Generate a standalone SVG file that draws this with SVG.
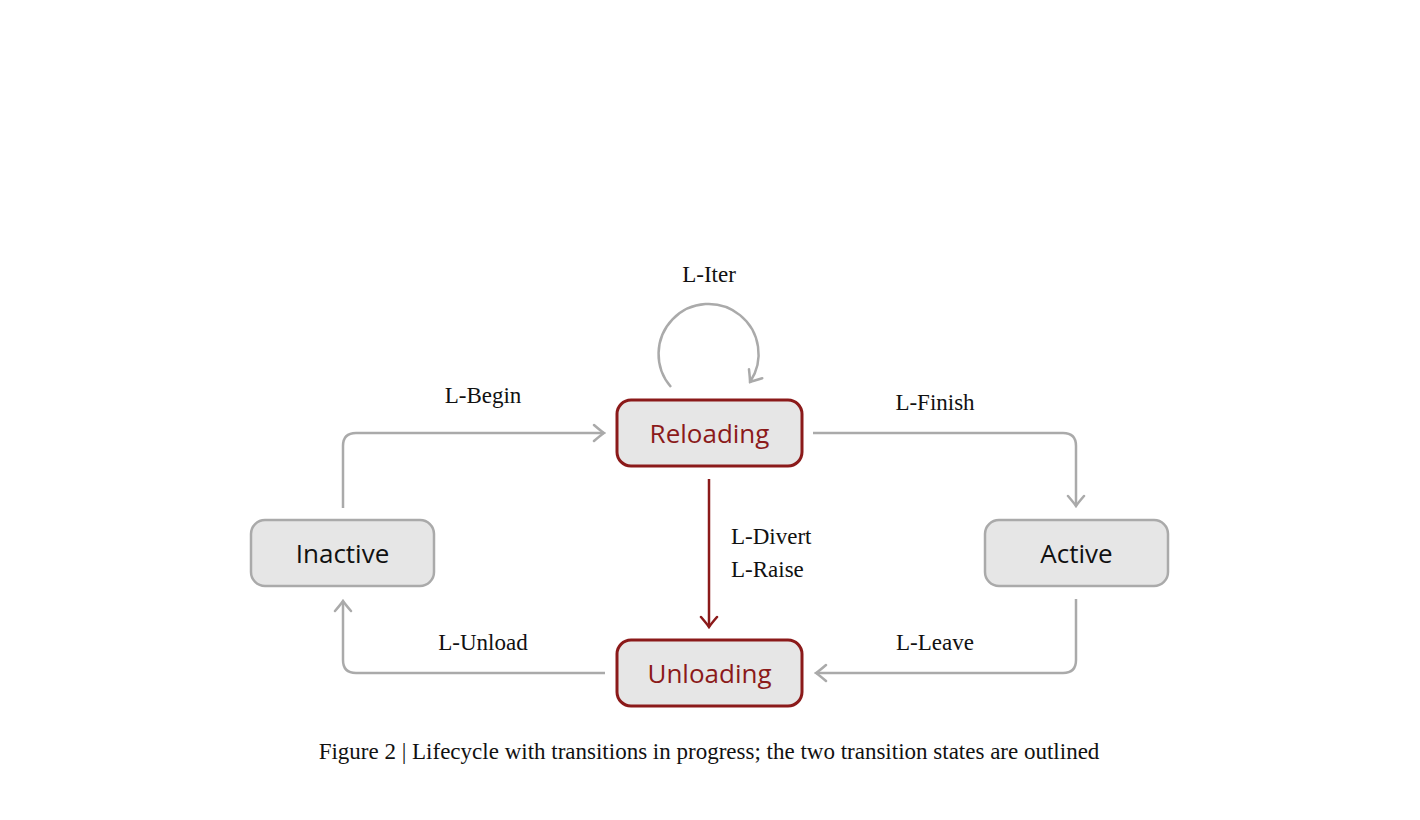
<svg xmlns="http://www.w3.org/2000/svg" width="1420" height="820" viewBox="0 0 1420 820">
<style>
.n rect{fill:#e6e6e6;stroke:#aaaaaa;stroke-width:2.5}
.n text{font-family:"Open Sans","DejaVu Sans",sans-serif;font-size:26px;text-anchor:middle;fill:#111}
.t rect{stroke:#8b1a1a;stroke-width:3}
.t text{fill:#8b1a1a}
.e{fill:none;stroke:#aaaaaa;stroke-width:2.5}
.lbl{font-family:"Liberation Serif","DejaVu Serif",serif;font-size:23px;fill:#111}
</style>
<defs>
<marker id="a" viewBox="-12 -10 14 20" markerWidth="14" markerHeight="20" refX="0" refY="0" orient="auto" markerUnits="userSpaceOnUse">
<path d="M-10,-8 Q-3,-2 0,0 Q-3,2 -10,8" fill="none" stroke="#aaaaaa" stroke-width="2.5" stroke-linecap="round"/>
</marker>
<marker id="ar" viewBox="-12 -10 14 20" markerWidth="14" markerHeight="20" refX="0" refY="0" orient="auto" markerUnits="userSpaceOnUse">
<path d="M-10,-8 Q-3,-2 0,0 Q-3,2 -10,8" fill="none" stroke="#8b1a1a" stroke-width="2.5" stroke-linecap="round"/>
</marker>
</defs>
<g id="connectors">
<path class="e" d="M343,508 V446 Q343,433 356,433 H604" marker-end="url(#a)"/>
<path class="e" d="M813,433 H1063 Q1076,433 1076,446 V506" marker-end="url(#a)"/>
<path d="M709,479 V627" fill="none" stroke="#8b1a1a" stroke-width="2.5" marker-end="url(#ar)"/>
<path class="e" d="M1076,599 V660 Q1076,673 1063,673 H816" marker-end="url(#a)"/>
<path class="e" d="M605,673 H356 Q343,673 343,660 V601" marker-end="url(#a)"/>
<path class="e" d="M671,387 A50,50 0 1 1 750,382" marker-end="url(#a)"/>
<text class="lbl" x="709" y="282" text-anchor="middle">L-Iter</text>
<text class="lbl" x="483" y="403" text-anchor="middle">L-Begin</text>
<text class="lbl" x="935" y="410" text-anchor="middle">L-Finish</text>
<text class="lbl" x="731" y="544">L-Divert</text>
<text class="lbl" x="731" y="577">L-Raise</text>
<text class="lbl" x="483" y="650" text-anchor="middle">L-Unload</text>
<text class="lbl" x="935" y="650" text-anchor="middle">L-Leave</text>
</g>
<g id="reloading" class="n t"><rect x="617" y="400" width="185" height="66" rx="14"/><text x="709.5" y="443">Reloading</text></g>
<g id="inactive" class="n"><rect x="251" y="520" width="183" height="66" rx="14"/><text x="342.5" y="563">Inactive</text></g>
<g id="active" class="n"><rect x="985" y="520" width="183" height="66" rx="14"/><text x="1076.5" y="563">Active</text></g>
<g id="unloading" class="n t"><rect x="617" y="640" width="185" height="66" rx="14"/><text x="709.5" y="683">Unloading</text></g>
<text class="lbl" x="709" y="759" text-anchor="middle" font-size="26">Figure 2 | Lifecycle with transitions in progress; the two transition states are outlined</text>
</svg>
